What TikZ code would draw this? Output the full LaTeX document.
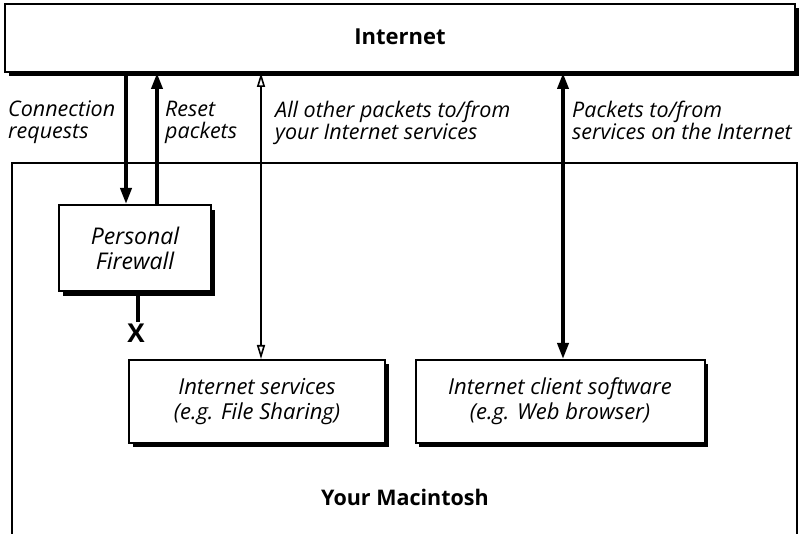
\documentclass[tikz,border=0pt]{standalone}
\usepackage{fontspec}
\setmainfont{Open Sans}
\usetikzlibrary{arrows.meta}
\tikzset{
  box/.style={draw, line width=2pt, fill=white, inner sep=0pt},
  shadow/.style={fill=black},
  thickarrow/.style={line width=3.6pt, -{Triangle[length=16pt,width=11pt]}},
  lbl/.style={font=\fontsize{21.5}{22}\selectfont\itshape, align=left, inner sep=0pt},
  boxtxt/.style={font=\fontsize{22}{25}\selectfont\itshape, align=center},
}
\begin{document}
\begin{tikzpicture}[x=1pt,y=-1pt]
\useasboundingbox (0,0) rectangle (801,534);
% Macintosh box
\draw[line width=2pt] (12,536) -- (12,163) -- (797,163) -- (797,536);
\node[font=\fontsize{21.5}{24}\selectfont\bfseries] (mac) at (405,497) {Your Macintosh};
% Internet box
\fill[shadow] (9,8) rectangle (799,76);
\node[box, minimum width=790pt, minimum height=68pt] (inet) at (400,38) {};
\node[font=\fontsize{22}{24}\selectfont\bfseries] (inetlbl) at (400,37) {Internet};
% Firewall
\fill[shadow] (63,210) rectangle (215,296);
\node[box, minimum width=152pt, minimum height=86pt, font=\fontsize{23}{25}\selectfont\itshape, align=center] (fw) at (135,248) {Personal\\Firewall};
% Services
\fill[shadow] (133,364) rectangle (389,447);
\node[box, minimum width=256pt, minimum height=83pt, boxtxt] (svc) at (257,401.5) {Internet services\\(e.g. File Sharing)};
% Client
\fill[shadow] (419,364) rectangle (708,447);
\node[box, minimum width=289pt, minimum height=83pt, boxtxt] (cli) at (560,401.5) {Internet client software\\(e.g. Web browser)};
% arrows
\draw[thickarrow] (inet.south -| 126,0) -- (fw.north -| 126,0);
\draw[thickarrow] (fw.north -| 157,0) -- (inet.south -| 157,0);
\draw[line width=1.6pt, {Triangle[open,length=14pt,width=8pt]}-{Triangle[open,length=14pt,width=8pt]}] (inet.south -| 261,0) -- (svc.north -| 261,0);
\draw[line width=3.6pt, {Triangle[length=16pt,width=11pt]}-{Triangle[length=16pt,width=11pt]}] (inet.south -| 563,0) -- (cli.north -| 563,0);
% blocked line
\coordinate (blk) at (138,322);
\draw[line width=3.6pt] (fw.south -| 138,0) -- (blk);
\node[font=\fontsize{26}{26}\selectfont\bfseries, anchor=north, inner sep=0pt] (x) at (136,324) {X};
% labels
\node[lbl, anchor=north west] (l1) at (8,101) {Connection\\requests};
\node[lbl, anchor=north west] (l2) at (165,101) {Reset\\packets};
\node[lbl, anchor=north west] (l3) at (275,101) {All other packets to/from\\your Internet services};
\node[lbl, anchor=north west] (l4) at (572,101) {Packets to/from\\services on the Internet};
\end{tikzpicture}
\end{document}
